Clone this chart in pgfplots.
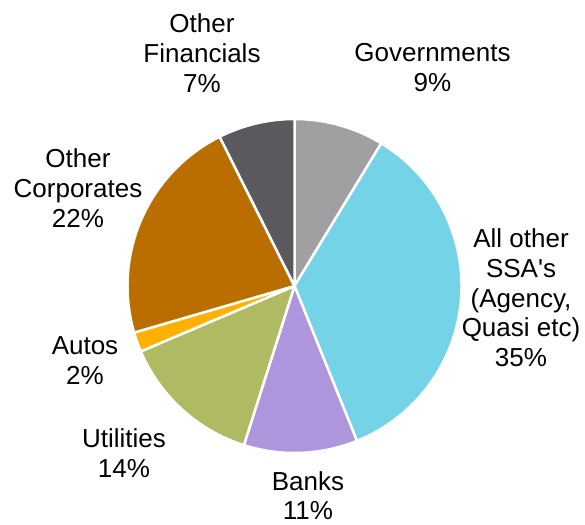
\documentclass[border=0pt]{standalone}
\usepackage{pgfplots}
\pgfplotsset{compat=1.18}
\usepackage{pgfplotstable}
\usepackage{fontspec}
\setmainfont{Liberation Sans}

% sector shares (%), clockwise from 12 o'clock
\pgfplotstableread{
share
8.7
35.2
11.0
13.7
1.9
22.1
7.4
}\piedata

\definecolor{c0}{HTML}{A0A0A2}% Governments
\definecolor{c1}{HTML}{74D3E6}% All other SSA's
\definecolor{c2}{HTML}{AE96DC}% Banks
\definecolor{c3}{HTML}{AFBA62}% Utilities
\definecolor{c4}{HTML}{FFB000}% Autos
\definecolor{c5}{HTML}{BA6E00}% Other Corporates
\definecolor{c6}{HTML}{5A5A5E}% Other Financials

\tikzset{lbl/.style={align=center, anchor=north, inner sep=0pt,
    font=\fontsize{26}{29.8}\selectfont}}

\begin{document}
\begin{tikzpicture}
\def\cum{0}
\pgfplotsforeachungrouped \i in {0,...,6}{%
  \pgfplotstablegetelem{\i}{share}\of\piedata
  \pgfmathsetmacro\s{90-3.6*\cum}%
  \pgfmathsetmacro\cum{\cum+\pgfplotsretval}%
  \pgfmathsetmacro\e{90-3.6*\cum}%
  \expandafter\xdef\csname pieS\i\endcsname{\s}%
  \expandafter\xdef\csname pieE\i\endcsname{\e}%
}
\begin{axis}[
  x=1pt, y=1pt,
  xmin=0, xmax=585, ymin=0, ymax=524,
  hide axis, clip=false,
]
\path (axis cs:0,0) rectangle (axis cs:585,524);
\pgfplotsinvokeforeach{0,...,6}{
  \filldraw[fill=c#1, draw=white, line width=2.5pt, line join=round]
    (axis cs:294.5,238) -- +(\csname pieS#1\endcsname:167pt)
    arc[start angle=\csname pieS#1\endcsname, end angle=\csname pieE#1\endcsname, radius=167pt]
    -- cycle;
}
\node[lbl] at (axis cs:432.5,480.5) {Governments\\9\%};
\node[lbl] at (axis cs:521,295.5) {All other\\SSA\textquotesingle s\\(Agency,\\Quasi etc)\\35\%};
\node[lbl] at (axis cs:308,53) {Banks\\11\%};
\node[lbl] at (axis cs:124,95.5) {Utilities\\14\%};
\node[lbl] at (axis cs:85,187.5) {Autos\\2\%};
\node[lbl] at (axis cs:78,375.5) {Other\\Corporates\\22\%};
\node[lbl] at (axis cs:202,510.5) {Other\\Financials\\7\%};
\end{axis}
\end{tikzpicture}
\end{document}
